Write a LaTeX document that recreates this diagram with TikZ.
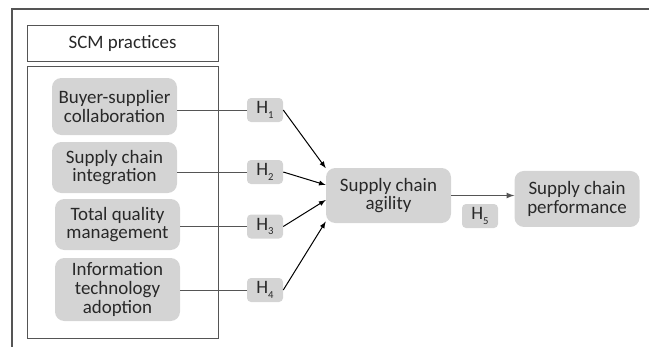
\documentclass[tikz,border=0pt]{standalone}
\usepackage{fontspec}
\setmainfont{Carlito}
\usetikzlibrary{positioning, arrows}
\definecolor{boxgray}{RGB}{212,212,212}
\definecolor{txtgray}{RGB}{40,40,40}
\definecolor{linegray}{RGB}{85,85,85}
\newcommand{\hlab}[1]{H\raisebox{-0.5ex}{\fontsize{8}{8}\selectfont #1}}

\begin{document}
\begin{tikzpicture}[x=0.75pt, y=-0.75pt, font=\fontsize{14.2}{14}\selectfont, text=txtgray,
	var/.style={fill=boxgray, rounded corners=7pt, minimum width=93.75pt, align=center, inner sep=1pt},
	hyp/.style={fill=boxgray, rounded corners=3pt, minimum width=27pt, minimum height=18pt, inner sep=0pt},
	frame/.style={draw=linegray, line width=0.7pt}]
		\useasboundingbox (0,0) rectangle (649,347);
		\draw[frame, line width=1.1pt] (649,9) -- (12,9) -- (12,347);
		
		\node[frame, minimum width=143.25pt, minimum height=27pt] (scm) at (122.5,43) {SCM practices};
		\draw[frame] (27,66) rectangle (218,338);
		
		\node[var, minimum height=42.75pt] (bsc) at (114.5,106.5) {Buyer-supplier\\collaboration};
		\node[var, minimum height=38.25pt] (sci) at (114.5,167.5) {Supply chain\\integration};
		\node[var, minimum height=38.25pt] (tqm) at (117.5,224.5) {Total quality\\management};
		\node[var, minimum height=47.25pt] (ita) at (117.5,289.5) {Information\\technology\\adoption};
		
		\node[hyp] (h1) at (265,110) {\hlab{1}};
		\node[hyp] (h2) at (265,172) {\hlab{2}};
		\node[hyp] (h3) at (265,226.5) {\hlab{3}};
		\node[hyp] (h4) at (265,290) {\hlab{4}};
		
		\node[var, minimum height=41.25pt] (agil) at (388.5,195.5) {Supply chain\\agility};
		\node[var, minimum height=42pt, right=47.25pt of agil, yshift=-2.6pt] (perf) {Supply chain\\performance};
		\node[hyp] (h5) at (480,216) {\hlab{5}};
		
		\draw[linegray, line width=0.7pt] (bsc.east |- h1) -- (h1);
		\draw[linegray, line width=0.7pt] (sci.east |- h2) -- (h2);
		\draw[linegray, line width=0.7pt] (tqm.east |- h3) -- (h3);
		\draw[linegray, line width=0.7pt] (ita.east |- h4) -- (h4);
		
		\draw[-latex, line width=0.75pt] (h1.east) -- ([yshift=20.5pt]agil.west);
		\draw[-latex, line width=0.75pt] (h2.east) -- ([yshift=7.9pt]agil.west);
		\draw[-latex, line width=0.75pt] (h3.east) -- ([yshift=-3.4pt]agil.west);
		\draw[-latex, line width=0.75pt] (h4.east) -- ([yshift=-19.5pt]agil.west);
		\draw[-latex, line width=1pt, linegray] (agil.east) -- (agil.east -| perf.west);
	\end{tikzpicture}
\end{document}
